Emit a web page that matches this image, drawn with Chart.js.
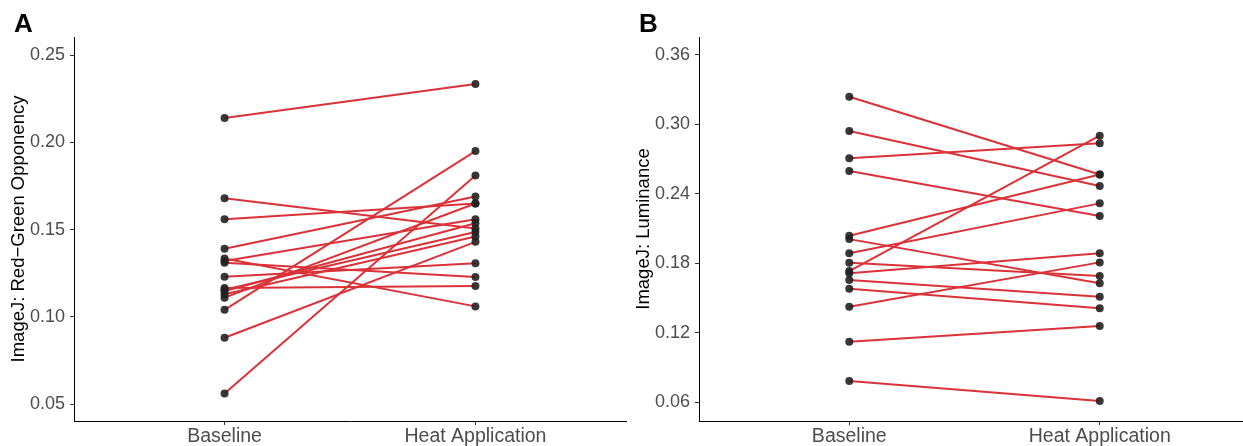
<!DOCTYPE html>
<html>
<head>
<meta charset="utf-8">
<script src="https://cdn.jsdelivr.net/npm/chart.js@4.4.1/dist/chart.umd.min.js"></script>
<style>
  html, body { margin: 0; padding: 0; background: #fff; }
  #wrap { position: relative; width: 1243px; height: 446px; overflow: hidden; }
  canvas { position: absolute; top: 0; }
  .tag { position: absolute; top: 8px; font: bold 26px "Liberation Sans", Arial, sans-serif; color: #000; line-height: 30px; }
</style>
</head>
<body>
<div id="wrap">
  <canvas id="panelA" width="630" height="446" style="left:0px"></canvas>
  <canvas id="panelB" width="629" height="446" style="left:625px"></canvas>
  <div class="tag" style="left:14px">A</div>
  <div class="tag" style="left:639px">B</div>
</div>
<script>
// Conditions shown on the x axis
const categories = ['Baseline', 'Heat Application'];

// Panel A: red-green opponency per participant
const rgBaseline = [0.214, 0.168, 0.156, 0.139, 0.1335, 0.132, 0.131, 0.123, 0.1165, 0.1155, 0.1148, 0.113, 0.111, 0.104, 0.088, 0.056];
const rgHeat     = [0.2335, 0.1507, 0.165, 0.169, 0.106, 0.156, 0.1228, 0.1307, 0.1177, 0.1486, 0.1536, 0.146, 0.165, 0.195, 0.143, 0.181];
const rgTicks    = [0.05, 0.10, 0.15, 0.20, 0.25];

// Panel B: luminance per participant
const lumBaseline = [0.3239, 0.2942, 0.2706, 0.2597, 0.2037, 0.2008, 0.1885, 0.1804, 0.1732, 0.1712, 0.1654, 0.1579, 0.1424, 0.1121, 0.0782];
const lumHeat     = [0.2567, 0.2467, 0.2836, 0.2208, 0.2567, 0.1626, 0.2317, 0.1689, 0.2902, 0.1885, 0.151, 0.141, 0.1807, 0.1257, 0.0609];
const lumTicks    = [0.06, 0.12, 0.18, 0.24, 0.30, 0.36];

const LINE_RED = 'rgb(218,50,56)';
const POINT_GREY = 'rgba(34,34,34,0.9)';
const FONT = '"Liberation Sans", Arial, sans-serif';

function makePanel(id, baseline, heat, ticks, yMin, yMax, yTitle, yAxisWidth, padRight) {
  const datasets = baseline.map((b, i) => ({
    type: 'scatter',
    showLine: true,
    data: [{ x: 1, y: b }, { x: 2, y: heat[i] }],
    borderColor: LINE_RED,
    borderWidth: 2,
    pointRadius: 0,
    order: 2
  }));
  const pts = [];
  baseline.forEach((b, i) => { pts.push({ x: 1, y: b }); pts.push({ x: 2, y: heat[i] }); });
  datasets.push({
    type: 'scatter',
    data: pts,
    backgroundColor: POINT_GREY,
    borderWidth: 0,
    pointRadius: 4,
    order: 1
  });

  return new Chart(document.getElementById(id), {
    type: 'scatter',
    data: { datasets },
    options: {
      responsive: false,
      animation: false,
      devicePixelRatio: 1,
      layout: { padding: { top: 37, right: padRight, bottom: 0, left: 0 } },
      plugins: { legend: { display: false }, tooltip: { enabled: false } },
      scales: {
        x: {
          type: 'linear',
          min: 0.4,
          max: 2.6,
          afterBuildTicks: s => { s.ticks = [{ value: 1 }, { value: 2 }]; },
          afterFit: s => { s.height = 25; },
          ticks: {
            callback: v => categories[v - 1],
            color: '#4d4d4d',
            font: { family: FONT, size: 19.5 },
            padding: 0,
            maxRotation: 0,
            autoSkip: false
          },
          grid: { drawOnChartArea: false, drawTicks: true, tickLength: 4, color: '#333', tickColor: '#333' },
          border: { display: true, color: '#000', width: 1 }
        },
        y: {
          min: yMin,
          max: yMax,
          afterBuildTicks: s => { s.ticks = ticks.map(v => ({ value: v })); },
          afterFit: s => { s.width = yAxisWidth; },
          ticks: {
            callback: v => v.toFixed(2),
            color: '#4d4d4d',
            font: { family: FONT, size: 18 },
            padding: 5
          },
          title: {
            display: true,
            text: yTitle,
            color: '#000',
            font: { family: FONT, size: 18.5 },
            padding: { top: 8, bottom: 0 }
          },
          grid: { drawOnChartArea: false, drawTicks: true, tickLength: 4, color: '#333', tickColor: '#333' },
          border: { display: true, color: '#000', width: 1 }
        }
      }
    }
  });
}

makePanel('panelA', rgBaseline, rgHeat, rgTicks, 0.0403, 0.2604, 'ImageJ: Red\u2212Green Opponency', 74, 0);
makePanel('panelB', lumBaseline, lumHeat, lumTicks, 0.0436, 0.3755, 'ImageJ: Luminance', 74, 0);
</script>
</body>
</html>
